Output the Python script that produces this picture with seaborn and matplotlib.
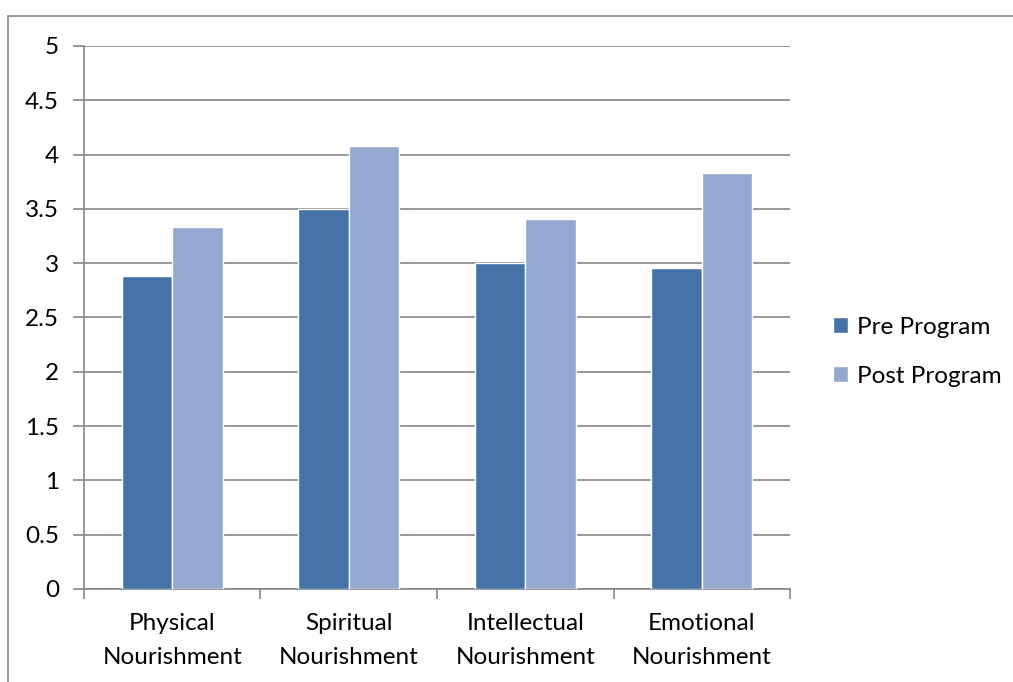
import matplotlib.pyplot as plt
import matplotlib.patches as mpatches
import seaborn as sns
import pandas as pd
import numpy as np

categories = ['Physical\nNourishment', 'Spiritual\nNourishment',
              'Intellectual\nNourishment', 'Emotional\nNourishment']
pre_program = [2.88, 3.50, 3.00, 2.96]
post_program = [3.33, 4.08, 3.41, 3.83]
series = ['Pre Program', 'Post Program']
y_ticks = [0, 0.5, 1, 1.5, 2, 2.5, 3, 3.5, 4, 4.5, 5]

df = pd.DataFrame({
    'category': categories * 2,
    'value': pre_program + post_program,
    'series': [series[0]] * 4 + [series[1]] * 4,
})

sns.set_style('white')
plt.rcParams['font.family'] = ['Lato', 'DejaVu Sans']
plt.rcParams['text.color'] = 'black'
plt.rcParams['xtick.color'] = 'black'
plt.rcParams['ytick.color'] = 'black'
grey = '#868686'
fs = 17.5

fig = plt.figure(figsize=(10.13, 6.82), dpi=100)
ax = fig.add_axes([0.0829, 0.1364, 0.697, 0.7962])

sns.barplot(data=df, x='category', y='value', hue='series',
            palette=['#4573A7', '#95A9D0'], width=0.57, saturation=1,
            ax=ax, zorder=3)

ax.set_ylim(0, 5)
ax.set_xlim(-0.5, 3.5)
ax.set_yticks(y_ticks)
ax.set_yticklabels([f'{t:g}' for t in y_ticks])
ax.yaxis.grid(True, color=grey, linewidth=1.2, zorder=0)
ax.set_xlabel('')
ax.set_ylabel('')

for s in ['top', 'right']:
    ax.spines[s].set_visible(False)
for s in ['left', 'bottom']:
    ax.spines[s].set_color(grey)
    ax.spines[s].set_linewidth(1.2)

ax.tick_params(axis='y', length=8, color=grey, width=1.2, labelsize=fs, pad=10,
               left=True, labelcolor='black')
ax.tick_params(axis='x', which='major', length=0, labelsize=fs, pad=17, labelcolor='black')
ax.set_xticks(np.arange(-0.5, 4, 1), minor=True)
ax.tick_params(axis='x', which='minor', length=7, color=grey, width=1.2, bottom=True)
for lbl in ax.get_xticklabels():
    lbl.set_linespacing(1.8)

handles, labels = ax.get_legend_handles_labels()
leg = ax.legend(handles, labels, loc='center left', bbox_to_anchor=(1.03, 0.437),
                frameon=False, fontsize=fs, handlelength=0.6, handleheight=0.6,
                handletextpad=0.4, labelspacing=1.15)
for t in leg.get_texts():
    t.set_color('black')

# outer chart border
fig.patches.append(mpatches.Rectangle((8 / 1013, -0.1), 1.2, 1 - 16 / 682 + 0.1,
                                      transform=fig.transFigure, fill=False,
                                      edgecolor=grey, linewidth=1.2))

fig.savefig('out.png', dpi=100)
